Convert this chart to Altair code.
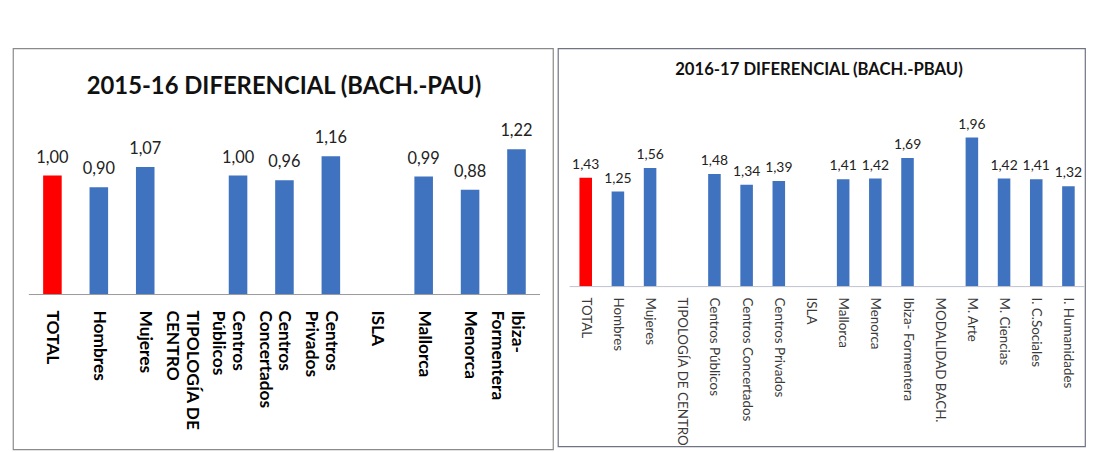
import altair as alt
import pandas as pd

# ---------------- data ----------------
cats_1516 = ["TOTAL", "Hombres", "Mujeres", "TIPOLOGÍA DE\nCENTRO", "Centros\nPúblicos",
             "Centros\nConcertados", "Centros\nPrivados", "ISLA", "Mallorca", "Menorca",
             "Ibiza-\nFormentera"]
vals_1516 = [1.00, 0.90, 1.07, None, 1.00, 0.96, 1.16, None, 0.99, 0.88, 1.22]
title_1516 = "2015-16 DIFERENCIAL (BACH.-PAU)"

cats_1617 = ["TOTAL", "Hombres", "Mujeres", "TIPOLOGÍA DE CENTRO", "Centros Públicos",
             "Centros Concertados", "Centros Privados", "ISLA", "Mallorca", "Menorca",
             "Ibiza- Formentera", "MODALIDAD BACH.", "M. Arte", "M. Ciencias",
             "I. C.Sociales", "I. Humanidades"]
vals_1617 = [1.43, 1.25, 1.56, None, 1.48, 1.34, 1.39, None, 1.41, 1.42, 1.69, None,
             1.96, 1.42, 1.41, 1.32]
title_1617 = "2016-17 DIFERENCIAL (BACH.-PBAU)"

RED = "#FF0000"
BLUE = "#3F72BF"
FONT = "Lato"


def panel(cats, vals, title, W, H, xr, pin, pout, ydom, yr,
          title_x, title_y, title_size, val_size, val_dy,
          lab_y, lab_size, lab_lh, lab_weight, lab_color, axis_color, border):
    df = pd.DataFrame({"cat": cats, "v": vals})
    xs = alt.Scale(domain=cats, range=xr, paddingInner=pin, paddingOuter=pout)
    ys = alt.Scale(domain=ydom, range=yr)
    X = alt.X("cat:N", scale=xs, axis=None, sort=None)

    bars = alt.Chart(df).transform_filter("isValid(datum.v)").mark_bar().encode(
        x=X,
        y=alt.Y("v:Q", scale=ys, axis=None),
        color=alt.condition(alt.datum.cat == "TOTAL", alt.value(RED), alt.value(BLUE)),
    )
    vlabels = alt.Chart(df).transform_filter("isValid(datum.v)").transform_calculate(
        lab="replace(format(datum.v, '.2f'), '.', ',')"
    ).mark_text(font=FONT, fontSize=val_size, baseline="alphabetic", dy=val_dy,
                color="#222222").encode(
        x=X, y=alt.Y("v:Q", scale=ys, axis=None), text="lab:N"
    )
    axis_line = alt.Chart(pd.DataFrame({"z": [0]})).mark_rule(
        color=axis_color, strokeWidth=1).encode(
        y=alt.Y("z:Q", scale=ys, axis=None),
        x=alt.value(xr[0]), x2=alt.value(xr[1]),
    )
    xlabels = alt.Chart(df).mark_text(
        font=FONT, fontSize=lab_size, fontWeight=lab_weight, color=lab_color,
        angle=90, align="left", baseline="middle", lineBreak="\n",
        lineHeight=lab_lh,
    ).encode(x=X, y=alt.value(lab_y), text="cat:N")
    ttl = alt.Chart(pd.DataFrame({"t": [title]})).mark_text(
        font=FONT, fontSize=title_size, fontWeight="bold", color="#111111",
        align="center", baseline="middle",
    ).encode(x=alt.value(title_x), y=alt.value(title_y), text="t:N")

    return alt.layer(bars, vlabels, axis_line, xlabels, ttl).properties(
        width=W, height=H,
        view=alt.ViewBackground(stroke=border, strokeWidth=1.2, fill="white"),
    )


left = panel(cats_1516, vals_1516, title_1516, W=544, H=404,
             xr=[16, 531], pin=0.6, pout=0.308, ydom=[0, 2], yr=[248, 8],
             title_x=273, title_y=39, title_size=24, val_size=16.5, val_dy=-13,
             lab_y=264, lab_size=17.5, lab_lh=20, lab_weight="bold", lab_color="#000000",
             axis_color="#9a9a9a", border="#8a8a8a")

right = panel(cats_1617, vals_1617, title_1617, W=531, H=401,
              xr=[11.8, 530.5], pin=0.61, pout=0.305, ydom=[0, 3], yr=[240, 10.2],
              title_x=263, title_y=22, title_size=16.8, val_size=14, val_dy=-9,
              lab_y=251, lab_size=13.5, lab_lh=16, lab_weight="normal", lab_color="#3a3a3a",
              axis_color="#c0c4d0", border="#6f7382")

chart = alt.hconcat(left, right, spacing=3).properties(
    padding={"left": 4, "top": 38, "right": 0, "bottom": 0},
    background="white",
)

chart.save("out.html", embed_options={"renderer": "svg", "actions": False})
